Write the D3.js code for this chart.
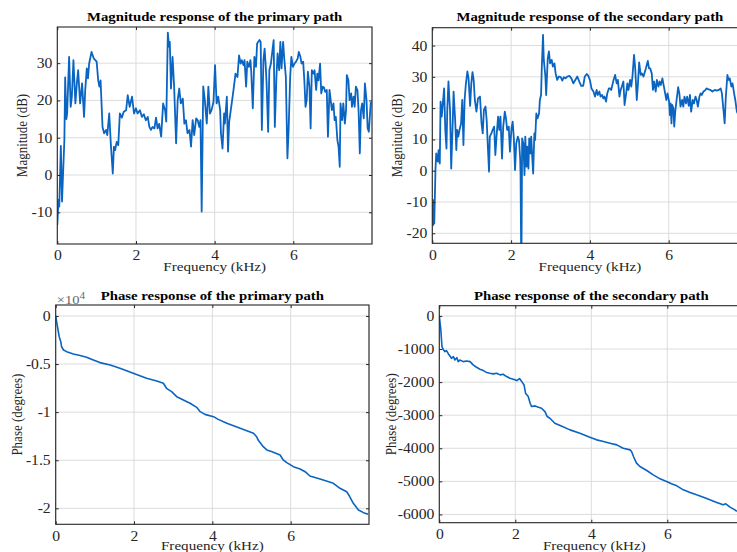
<!DOCTYPE html>
<html><head><meta charset="utf-8">
<script src="https://cdn.jsdelivr.net/npm/d3@7"></script>
<style>html,body{margin:0;padding:0;background:#fff;} svg{display:block;}</style>
</head><body><svg id="chart" width="737" height="552"></svg>
<script>
// ---------------- data ----------------
const freqTicks = [0, 2, 4, 6];
const magPrimaryTicks = [-10, 0, 10, 20, 30];
const magSecondaryTicks = [-20, -10, 0, 10, 20, 30, 40];
const phasePrimaryTicks = [0, -5000, -10000, -15000, -20000];
const phaseSecondaryTicks = [0, -1000, -2000, -3000, -4000, -5000, -6000];

const titles = [
  "Magnitude response of the primary path",
  "Magnitude response of the secondary path",
  "Phase response of the primary path",
  "Phase response of the secondary path"
];
const xLabel = "Frequency (kHz)";
const yLabels = ["Magnitude (dB)", "Magnitude (dB)", "Phase (degrees)", "Phase (degrees)"];

// [frequency kHz, magnitude dB]
const primaryMagnitude = [[0.00,-13.4],[0.03,-6.7],[0.05,-8.5],[0.09,7.8],[0.12,-7.1],[0.15,1.3],[0.18,9.4],[0.20,26.2],[0.23,15.0],[0.25,16.5],[0.30,31.7],[0.34,18.3],[0.37,21.0],[0.41,30.8],[0.46,19.2],[0.50,25.0],[0.53,28.1],[0.58,19.2],[0.63,24.6],[0.68,15.6],[0.71,22.8],[0.75,28.6],[0.78,25.9],[0.81,29.9],[0.87,33.0],[0.93,31.2],[1.00,30.4],[1.04,25.4],[1.07,23.7],[1.10,25.4],[1.15,12.9],[1.19,11.2],[1.24,12.1],[1.27,10.7],[1.32,16.5],[1.36,8.5],[1.41,0.4],[1.44,7.6],[1.47,6.7],[1.51,8.9],[1.55,8.0],[1.59,16.5],[1.64,15.4],[1.69,17.0],[1.75,17.4],[1.79,21.4],[1.84,18.3],[1.90,21.0],[1.95,16.5],[2.00,17.9],[2.04,16.5],[2.10,17.4],[2.15,15.6],[2.20,16.3],[2.25,14.7],[2.30,15.6],[2.34,12.9],[2.38,12.1],[2.42,12.9],[2.47,12.5],[2.51,15.4],[2.55,12.5],[2.59,13.7],[2.64,10.3],[2.69,19.2],[2.74,17.4],[2.77,14.3],[2.81,38.2],[2.84,34.4],[2.86,35.7],[2.89,23.2],[2.93,31.7],[2.97,23.7],[3.02,8.5],[3.06,20.1],[3.10,23.2],[3.14,19.2],[3.19,20.5],[3.23,13.8],[3.27,14.7],[3.31,11.2],[3.36,12.1],[3.40,7.6],[3.44,14.7],[3.48,10.7],[3.53,15.2],[3.57,14.7],[3.61,12.9],[3.64,14.7],[3.67,-9.8],[3.71,23.8],[3.75,20.1],[3.80,13.8],[3.84,23.7],[3.88,16.5],[3.92,17.4],[3.97,19.6],[4.01,29.5],[4.05,19.2],[4.09,21.0],[4.14,17.4],[4.16,11.2],[4.20,7.1],[4.24,16.5],[4.26,13.8],[4.31,21.0],[4.34,6.3],[4.37,14.3],[4.41,17.4],[4.45,20.5],[4.49,23.7],[4.53,27.2],[4.58,26.3],[4.62,32.1],[4.66,29.9],[4.69,30.8],[4.73,29.5],[4.76,30.8],[4.80,23.7],[4.83,30.4],[4.87,29.0],[4.91,30.8],[4.93,27.7],[4.97,17.9],[5.01,31.7],[5.05,29.0],[5.08,35.3],[5.14,36.2],[5.17,35.7],[5.20,12.1],[5.24,30.8],[5.27,33.9],[5.30,29.0],[5.32,24.6],[5.36,11.6],[5.39,28.1],[5.43,29.9],[5.47,33.5],[5.50,36.2],[5.53,12.9],[5.57,26.3],[5.60,32.6],[5.64,28.1],[5.67,35.7],[5.70,28.6],[5.74,35.7],[5.77,31.2],[5.81,26.3],[5.85,4.5],[5.88,12.1],[5.92,26.3],[5.95,31.7],[5.99,29.0],[6.03,29.9],[6.07,30.4],[6.11,31.2],[6.14,33.0],[6.18,31.7],[6.21,29.9],[6.25,30.4],[6.28,25.4],[6.31,18.3],[6.34,20.1],[6.37,27.7],[6.41,23.7],[6.44,12.5],[6.47,28.1],[6.51,27.2],[6.54,28.1],[6.58,22.8],[6.61,27.2],[6.64,25.4],[6.68,29.9],[6.71,21.9],[6.75,23.7],[6.78,23.5],[6.81,22.3],[6.85,22.8],[6.88,10.3],[6.92,22.8],[6.95,20.1],[6.98,17.4],[7.02,19.2],[7.05,14.7],[7.08,15.6],[7.12,9.4],[7.15,7.6],[7.18,2.2],[7.20,19.2],[7.24,14.7],[7.27,19.2],[7.31,13.8],[7.34,17.4],[7.36,26.8],[7.40,25.4],[7.43,20.1],[7.47,21.9],[7.49,18.3],[7.53,21.0],[7.56,18.3],[7.59,23.7],[7.63,22.8],[7.66,17.0],[7.69,5.8],[7.72,17.4],[7.75,19.2],[7.79,15.2],[7.82,24.6],[7.86,20.1],[7.89,12.5],[7.92,11.6],[7.95,16.5],[7.97,19.6]];

const secondaryMagnitude = [[0.00,-10.5],[0.02,-17.4],[0.03,-9.4],[0.05,-16.9],[0.08,0.2],[0.10,5.5],[0.14,2.9],[0.16,6.6],[0.19,2.3],[0.21,22.1],[0.24,17.3],[0.26,20.5],[0.30,26.3],[0.33,13.0],[0.36,7.1],[0.38,19.4],[0.41,28.5],[0.45,19.4],[0.48,0.7],[0.52,16.2],[0.54,25.3],[0.58,16.2],[0.61,6.6],[0.63,13.0],[0.66,10.9],[0.69,13.0],[0.73,15.1],[0.76,22.6],[0.79,8.2],[0.82,22.6],[0.85,27.4],[0.89,31.7],[0.92,29.5],[0.96,20.7],[0.99,27.9],[1.02,31.5],[1.05,29.0],[1.08,22.6],[1.12,18.9],[1.16,23.1],[1.21,23.7],[1.25,15.1],[1.28,11.9],[1.31,19.4],[1.35,20.5],[1.38,16.2],[1.41,7.7],[1.44,-0.3],[1.46,10.9],[1.50,11.9],[1.53,13.0],[1.57,14.1],[1.60,5.0],[1.63,10.9],[1.67,17.3],[1.70,13.0],[1.73,17.3],[1.77,3.9],[1.80,14.1],[1.84,18.9],[1.87,16.7],[1.90,13.0],[1.94,14.1],[1.97,6.1],[2.01,13.5],[2.04,15.7],[2.07,10.3],[2.10,0.2],[2.13,8.7],[2.17,10.9],[2.20,9.8],[2.23,3.9],[2.24,-1.4],[2.26,-35],[2.28,10.3],[2.31,8.7],[2.34,-1.4],[2.36,10.9],[2.39,1.3],[2.41,7.7],[2.44,0.7],[2.46,10.3],[2.49,5.5],[2.51,10.9],[2.54,3.4],[2.56,-0.9],[2.59,11.9],[2.61,9.8],[2.64,18.3],[2.67,16.7],[2.71,18.3],[2.73,22.6],[2.76,24.2],[2.78,33.3],[2.81,43.4],[2.83,35.4],[2.87,30.1],[2.89,24.2],[2.93,35.9],[2.96,38.1],[2.99,34.3],[3.03,35.4],[3.06,33.3],[3.10,34.3],[3.13,31.1],[3.17,29.0],[3.21,30.1],[3.26,29.9],[3.30,28.8],[3.34,29.9],[3.38,29.5],[3.43,30.1],[3.48,30.3],[3.53,29.5],[3.58,27.9],[3.63,29.0],[3.68,30.1],[3.73,28.5],[3.78,27.1],[3.83,27.1],[3.87,30.1],[3.92,30.9],[3.96,30.3],[4.00,29.0],[4.04,26.3],[4.09,25.3],[4.13,23.7],[4.17,25.8],[4.20,24.2],[4.24,25.3],[4.27,23.7],[4.31,24.2],[4.34,23.1],[4.37,23.7],[4.41,22.1],[4.44,24.7],[4.48,26.3],[4.51,26.3],[4.54,25.8],[4.58,27.9],[4.60,29.0],[4.64,30.6],[4.68,27.9],[4.71,29.0],[4.75,23.7],[4.78,25.8],[4.81,26.9],[4.85,28.5],[4.88,21.0],[4.92,24.7],[4.95,27.9],[4.98,25.8],[5.02,29.0],[5.05,26.9],[5.08,30.1],[5.12,37.0],[5.15,32.7],[5.19,22.6],[5.22,27.9],[5.25,34.6],[5.29,30.6],[5.32,31.1],[5.36,30.1],[5.39,31.4],[5.42,32.7],[5.47,35.1],[5.50,32.7],[5.53,32.7],[5.57,31.1],[5.60,25.8],[5.63,28.5],[5.67,25.3],[5.70,29.0],[5.74,26.9],[5.77,28.5],[5.80,27.4],[5.84,29.5],[5.87,27.4],[5.91,24.7],[5.94,22.6],[5.97,24.7],[6.01,22.1],[6.03,17.8],[6.05,21.5],[6.07,15.1],[6.09,21.0],[6.12,19.9],[6.14,14.1],[6.17,19.4],[6.20,22.6],[6.24,26.7],[6.27,24.7],[6.30,20.5],[6.34,22.6],[6.37,20.5],[6.40,23.7],[6.44,21.5],[6.47,23.7],[6.51,20.7],[6.54,24.2],[6.57,18.9],[6.61,22.6],[6.64,21.5],[6.68,23.7],[6.71,22.6],[6.74,20.5],[6.78,23.7],[6.81,24.7],[6.84,24.2],[6.88,25.3],[6.92,25.6],[6.96,26.3],[7.01,26.0],[7.06,25.8],[7.11,25.3],[7.17,25.8],[7.22,25.6],[7.27,25.8],[7.32,26.3],[7.35,24.7],[7.39,19.4],[7.42,15.1],[7.45,23.7],[7.49,30.6],[7.52,29.0],[7.55,29.5],[7.59,26.9],[7.62,27.9],[7.66,24.7],[7.69,22.6],[7.73,18.9],[7.78,17.5]];

// [frequency kHz, phase degrees]
const primaryPhase = [[0.00,0],[0.03,-760],[0.06,-1460],[0.09,-2150],[0.13,-2670],[0.15,-3200],[0.20,-3540],[0.28,-3710],[0.45,-3950],[0.62,-4120],[0.79,-4300],[0.96,-4580],[1.13,-4850],[1.39,-5100],[1.64,-5440],[1.98,-5960],[2.32,-6480],[2.58,-6760],[2.75,-7000],[2.83,-7520],[2.96,-7870],[3.09,-8390],[3.26,-8730],[3.43,-9080],[3.60,-9500],[3.69,-9950],[3.81,-10230],[4.03,-10470],[4.15,-10750],[4.37,-11160],[4.71,-11680],[5.05,-12200],[5.13,-12550],[5.17,-12900],[5.30,-13590],[5.39,-13930],[5.51,-14100],[5.73,-14450],[5.81,-14970],[5.90,-15250],[6.07,-15670],[6.24,-15910],[6.37,-16190],[6.49,-16640],[6.75,-16950],[7.09,-17400],[7.26,-17920],[7.43,-18270],[7.50,-18720],[7.60,-19480],[7.73,-20170],[7.86,-20450],[7.98,-20620]];

const secondaryPhase = [[0.00,0],[0.04,-423],[0.07,-927],[0.11,-1028],[0.15,-1078],[0.19,-1048],[0.24,-1149],[0.28,-1209],[0.32,-1280],[0.37,-1230],[0.41,-1330],[0.46,-1260],[0.50,-1380],[0.54,-1330],[0.63,-1380],[0.72,-1360],[0.81,-1380],[0.89,-1480],[0.98,-1551],[1.07,-1611],[1.16,-1652],[1.25,-1712],[1.33,-1732],[1.42,-1752],[1.51,-1732],[1.60,-1782],[1.68,-1762],[1.77,-1833],[1.86,-1883],[1.95,-1913],[2.04,-1954],[2.11,-1893],[2.17,-1984],[2.23,-2085],[2.27,-2336],[2.34,-2437],[2.39,-2638],[2.43,-2739],[2.52,-2719],[2.61,-2759],[2.69,-2789],[2.78,-2890],[2.84,-3041],[2.91,-3092],[3.04,-3243],[3.18,-3313],[3.44,-3444],[3.70,-3545],[3.96,-3666],[4.14,-3746],[4.32,-3797],[4.49,-3847],[4.67,-3897],[4.84,-3998],[5.02,-4048],[5.06,-4099],[5.11,-4250],[5.19,-4451],[5.28,-4552],[5.46,-4673],[5.63,-4804],[5.81,-4924],[5.98,-5005],[6.11,-5075],[6.25,-5136],[6.42,-5257],[6.60,-5337],[6.77,-5408],[6.95,-5478],[7.12,-5559],[7.30,-5639],[7.47,-5710],[7.54,-5680],[7.65,-5780],[7.78,-5861],[7.83,-5911]];

// ---------------- drawing ----------------
const FONT = '"Liberation Serif","Times New Roman",Times,serif';
const SX = 1.12;           // horizontal stretch of the original figure's text
const FS_TICK = 14;
const FS_LAB = 13.5;
const FS_YLAB = 13;
const FS_TITLE = 13.2;
const LINE = "#0a64c2";
const INK = "#262626";
const hyphen = s => String(s).replace("\u2212", "-");

const svg = d3.select("#chart");
svg.append("rect").attr("width", 737).attr("height", 552).attr("fill", "#fff");
const defs = svg.append("defs");

const panels = [
  { data: primaryMagnitude, yTicks: magPrimaryTicks, yDomain: [-18.5, 39.7],
    box: [57.3, 372, 27, 244], fmt: d => hyphen(d), title: titles[0], yLabel: yLabels[0],
    titleY: 20.5, xLabY: 270.5, yLabX: 26.5, lw: 1.8 },
  { data: secondaryMagnitude, yTicks: magSecondaryTicks, yDomain: [-23.2, 45.7],
    box: [432.3, 747.5, 27.7, 243.3], fmt: d => hyphen(d), title: titles[1], yLabel: yLabels[1],
    titleY: 20.5, xLabY: 270.5, yLabX: 401.5, lw: 1.8 },
  { data: primaryPhase, yTicks: phasePrimaryTicks, yDomain: [-21660, 1140],
    box: [55.7, 369, 305, 524.3], fmt: d => hyphen(d / 1e4), title: titles[2], yLabel: yLabels[2],
    titleY: 300, xLabY: 550, yLabX: 22, lw: 1.6, exponent: true },
  { data: secondaryPhase, yTicks: phaseSecondaryTicks, yDomain: [-6250, 310],
    box: [439.3, 743.3, 305.7, 522.7], fmt: d => hyphen(d), title: titles[3], yLabel: yLabels[3],
    titleY: 300, xLabY: 550, yLabX: 396, lw: 1.6 }
];

panels.forEach((p, i) => {
  const [L, R, T, B] = p.box;
  const x = d3.scaleLinear().domain([0, 8]).range([L, R]);
  const y = d3.scaleLinear().domain(p.yDomain).range([B, T]);
  const g = svg.append("g");
  const clipId = "clip" + i;
  defs.append("clipPath").attr("id", clipId).append("rect")
    .attr("x", L).attr("y", T).attr("width", R - L).attr("height", B - T);

  // grid
  g.append("g").selectAll("line").data(freqTicks.concat([8])).join("line")
    .attr("x1", d => x(d)).attr("x2", d => x(d)).attr("y1", T).attr("y2", B)
    .attr("stroke", "#dcdcdc").attr("stroke-width", 1);
  g.append("g").selectAll("line").data(p.yTicks).join("line")
    .attr("x1", L).attr("x2", R).attr("y1", d => y(d)).attr("y2", d => y(d))
    .attr("stroke", "#dcdcdc").attr("stroke-width", 1);

  // data line
  g.append("path").datum(p.data)
    .attr("clip-path", `url(#${clipId})`)
    .attr("fill", "none").attr("stroke", LINE).attr("stroke-width", p.lw)
    .attr("stroke-linejoin", "round")
    .attr("d", d3.line().x(d => x(d[0])).y(d => y(d[1])));

  // axes (inside ticks on all sides)
  const styleAxis = sel => {
    sel.select(".domain").remove();
    sel.selectAll(".tick line").attr("stroke", INK);
    sel.selectAll("text").attr("font-family", FONT).attr("font-size", FS_TICK).attr("fill", INK);
  };
  const bottom = g.append("g").attr("transform", `translate(0,${B})`)
    .call(d3.axisBottom(x).tickValues(freqTicks).tickSizeInner(-3).tickSizeOuter(0)
      .tickPadding(6.5).tickFormat(d => hyphen(d)));
  styleAxis(bottom);
  bottom.selectAll("text").attr("transform", `scale(${SX},1)`);

  const top = g.append("g").attr("transform", `translate(0,${T})`)
    .call(d3.axisTop(x).tickValues(freqTicks).tickSizeInner(-3).tickSizeOuter(0).tickFormat(""));
  styleAxis(top);

  const left = g.append("g").attr("transform", `translate(${L},0)`)
    .call(d3.axisLeft(y).tickValues(p.yTicks).tickSizeInner(-3).tickSizeOuter(0)
      .tickPadding(5 / SX).tickFormat(p.fmt));
  styleAxis(left);
  left.selectAll("text").attr("transform", `scale(${SX},1)`);

  const right = g.append("g").attr("transform", `translate(${R},0)`)
    .call(d3.axisRight(y).tickValues(p.yTicks).tickSizeInner(-3).tickSizeOuter(0).tickFormat(""));
  styleAxis(right);

  // frame
  g.append("rect").attr("x", L).attr("y", T).attr("width", R - L).attr("height", B - T)
    .attr("fill", "none").attr("stroke", INK).attr("stroke-width", 1.1);

  // title
  const cx = (L + R) / 2;
  g.append("text").attr("transform", `translate(${cx},${p.titleY}) scale(${SX},1)`)
    .attr("text-anchor", "middle").attr("font-family", FONT).attr("font-weight", "bold")
    .attr("font-size", FS_TITLE).attr("fill", "#000").text(p.title);

  // x label
  g.append("text").attr("transform", `translate(${cx + (i === 3 ? 3 : 0)},${p.xLabY}) scale(${SX},1)`)
    .attr("text-anchor", "middle").attr("font-family", FONT)
    .attr("font-size", FS_LAB).attr("fill", INK).text(xLabel);

  // y label
  g.append("text").attr("transform", `translate(${p.yLabX},${(T + B) / 2}) rotate(-90) scale(1,${SX})`)
    .attr("text-anchor", "middle").attr("font-family", FONT)
    .attr("font-size", FS_YLAB).attr("fill", INK).text(p.yLabel);

  if (p.exponent) {
    const t = g.append("text").attr("transform", `translate(${L + 1},${T - 1}) scale(${SX},1)`)
      .attr("font-family", FONT).attr("font-size", 13).attr("fill", "#666");
    t.append("tspan").text("\u00d710");
    t.append("tspan").attr("dy", -5).attr("font-size", 10).text("4");
  }
});
</script>
</body></html>
